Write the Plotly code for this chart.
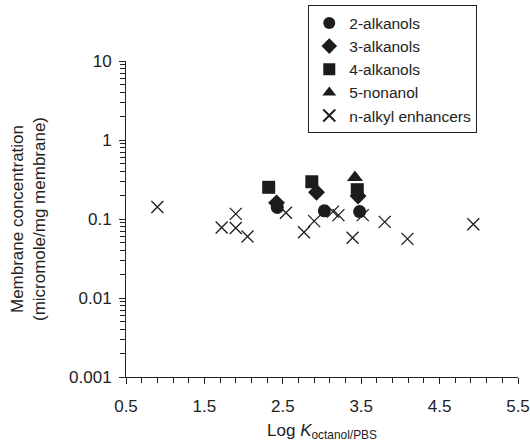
import plotly.graph_objects as go

# Data
alk2_x = [2.43, 3.03, 3.48]
alk2_y = [0.140, 0.127, 0.124]
alk3_x = [2.42, 2.93, 3.46]
alk3_y = [0.160, 0.218, 0.195]
alk4_x = [2.32, 2.87, 3.45]
alk4_y = [0.252, 0.296, 0.235]
non5_x = [3.42]
non5_y = [0.335]
nalk_x = [0.90, 1.72, 1.90, 1.90, 2.05, 2.54, 2.77, 2.90, 3.14, 3.21, 3.39, 3.52, 3.80, 4.09, 4.93]
nalk_y = [0.142, 0.078, 0.116, 0.077, 0.060, 0.120, 0.068, 0.094, 0.124, 0.112, 0.058, 0.112, 0.092, 0.056, 0.086]

x_ticks = [0.5, 1.5, 2.5, 3.5, 4.5, 5.5]
y_ticks = [0.001, 0.01, 0.1, 1, 10]
y_tick_labels = ["0.001", "0.01", "0.1", "1", "10"]

C = "#1c1c1c"
FONT = "Liberation Sans, Arial, sans-serif"

fig = go.Figure()
series = [
    ("2-alkanols", alk2_x, alk2_y, "circle", 13),
    ("3-alkanols", alk3_x, alk3_y, "diamond", 13),
    ("4-alkanols", alk4_x, alk4_y, "square", 13),
    ("5-nonanol", non5_x, non5_y, "triangle-up", 14),
]
fig.add_trace(go.Scatter(x=nalk_x, y=nalk_y, mode="markers", name="n-alkyl enhancers",
                         marker=dict(symbol="x-thin", size=12, line=dict(color=C, width=1.3), color=C),
                         legendrank=5))
for i, (nm, xs, ys, sym, sz) in enumerate(series):
    fig.add_trace(go.Scatter(x=xs, y=ys, mode="markers", name=nm,
                             marker=dict(symbol=sym, size=sz, color=C, line=dict(width=0)),
                             legendrank=i + 1))

minor_x = [round(0.5 + 0.2 * k, 2) for k in range(0, 26)]
minor_y = [m * 10 ** e for e in range(-3, 1) for m in range(2, 10)]

fig.update_layout(
    width=530, height=444,
    margin=dict(l=126, r=12, t=61, b=67, autoexpand=False),
    paper_bgcolor="white", plot_bgcolor="white",
    font=dict(family=FONT, size=17, color="#222"),
    showlegend=True,
    legend=dict(x=0.465, y=1.176, xanchor="left", yanchor="top",
                bordercolor="#222", borderwidth=1, bgcolor="white",
                font=dict(size=15.5), itemsizing="constant", itemwidth=30),
    xaxis=dict(range=[0.5, 5.5], tickvals=x_ticks, ticktext=[str(v) for v in x_ticks],
               showline=True, linecolor="#222", linewidth=1, ticks="outside", ticklen=6,
               tickcolor="#222", showgrid=False, zeroline=False, automargin=False,
               tickfont=dict(size=17), ticklabelstandoff=8,
               minor=dict(tickvals=minor_x, ticks="outside", ticklen=5, tickcolor="#222", showgrid=False),
               title=dict(text="Log <i>K</i><sub>octanol/PBS</sub>", standoff=8, font=dict(size=17))),
    yaxis=dict(type="log", range=[-3, 1], tickvals=y_ticks, ticktext=y_tick_labels,
               showline=True, linecolor="#222", linewidth=1, ticks="outside", ticklen=6,
               tickcolor="#222", showgrid=False, zeroline=False, automargin=False,
               tickfont=dict(size=17), ticklabelstandoff=4,
               minor=dict(tickvals=minor_y, ticks="outside", ticklen=5, tickcolor="#222", showgrid=False),
               title=dict(text="Membrane concentration<br>(micromole/mg membrane)", standoff=19,
                          font=dict(size=17))),
)

fig.write_html("out.html", config={"displayModeBar": False},
               post_script="document.body.style.margin='0px';")
